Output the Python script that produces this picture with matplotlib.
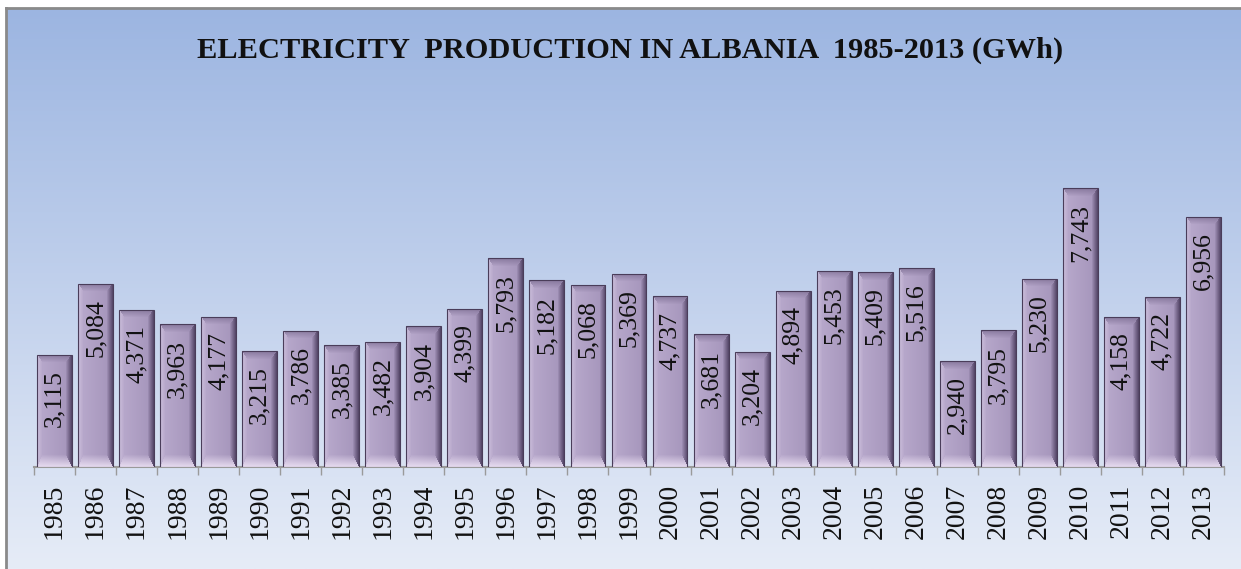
import matplotlib.pyplot as plt
import matplotlib.colors as mcolors
import numpy as np

years = list(range(1985, 2014))
production = [3115, 5084, 4371, 3963, 4177, 3215, 3786, 3385, 3482, 3904,
              4399, 5793, 5182, 5068, 5369, 4737, 3681, 3204, 4894, 5453,
              5409, 5516, 2940, 3795, 5230, 7743, 4158, 4722, 6956]
title = 'ELECTRICITY  PRODUCTION IN ALBANIA  1985-2013 (GWh)'

W, H = 1241, 569
fig = plt.figure(figsize=(W / 100, H / 100), dpi=100)
fig.patch.set_facecolor('white')

# background panel with vertical gradient
bg = fig.add_axes([6 / W, 0, 1 - 6 / W, (H - 8) / H])
top_c = np.array(mcolors.to_rgb('#9cb5e1'))
bot_c = np.array(mcolors.to_rgb('#e6ecf7'))
t = np.linspace(0, 1, 256)[:, None]
grad = top_c * (1 - t) + bot_c * t
bg.imshow(grad[:, None, :].repeat(2, axis=1), aspect='auto', extent=[0, 1, 0, 1])
bg.set_xlim(0, 1)
bg.set_ylim(0, 1)
bg.set_xticks([])
bg.set_yticks([])
for s in ['right', 'bottom']:
    bg.spines[s].set_visible(False)
for s in ['left', 'top']:
    bg.spines[s].set_color('#8a8a8a')
    bg.spines[s].set_linewidth(2)

ax = fig.add_axes([34 / W, 102 / H, (1224 - 34) / W, (467 - 143) / H])
ax.patch.set_alpha(0)
x = np.arange(len(years))
bars = ax.bar(x, production, width=0.85, color='#b3a3c7', edgecolor='none', zorder=2)
ax.set_xlim(-0.5, len(years) - 0.5)
ax.set_ylim(0, 9000)

face_l = np.array(mcolors.to_rgb('#b9aacd'))
face_r = np.array(mcolors.to_rgb('#a494ba'))
c_top = np.array(mcolors.to_rgb('#ebe0f3'))
c_left = np.array(mcolors.to_rgb('#cbbedb'))
c_right = np.array(mcolors.to_rgb('#4f4162'))
c_bot = np.array(mcolors.to_rgb('#85769b'))

fig.canvas.draw()
for b in bars:
    x0, y0 = b.get_x(), b.get_y()
    w, h = b.get_width(), b.get_height()
    p0 = ax.transData.transform((x0, y0))
    p1 = ax.transData.transform((x0 + w, y0 + h))
    nx = max(int(round(p1[0] - p0[0])), 2)
    ny = max(int(round(p1[1] - p0[1])), 2)
    jj, ii = np.meshgrid(np.arange(nx), np.arange(ny))
    dl = jj / 5.0
    dr = (nx - 1 - jj) / 6.0
    dt = ii / 12.0
    db = (ny - 1 - ii) / 8.0
    u = jj / (nx - 1)
    img = face_l * (1 - u[..., None]) + face_r * u[..., None]
    d = np.stack([dt, db, dl, dr])
    m = d.min(axis=0)
    k = d.argmin(axis=0)
    for idx, col in enumerate([c_top, c_bot, c_left, c_right]):
        sel = (k == idx) & (m < 1)
        f = (1 - m[sel])[:, None] * 0.9
        img[sel] = img[sel] * (1 - f) + col * f
    im = ax.imshow(img, extent=[x0, x0 + w, y0 + h, y0], aspect='auto',
                   interpolation='bilinear', zorder=3)
    im.set_clip_path(b)
    ax.add_patch(plt.Rectangle((x0, y0), w, h, fill=False, edgecolor='#4a3d5a',
                               linewidth=0.8, zorder=4))

for xi, v in zip(x, production):
    ax.annotate(f'{v:,}', (xi, v), xytext=(0, -11), textcoords='offset points',
                rotation=90, ha='center', va='top', fontsize=18.5,
                family='Liberation Serif', color='#111111', zorder=5)

ax.set_yticks([])
for s in ['left', 'right', 'top']:
    ax.spines[s].set_visible(False)
ax.spines['bottom'].set_color('#9a9a9a')
ax.spines['bottom'].set_linewidth(1.5)
ax.set_xticks(x)
ax.set_xticklabels([str(y) for y in years], rotation=90, fontsize=20,
                   family='Liberation Serif', color='#111111')
ax.tick_params(axis='x', which='major', length=0, pad=12)
ax.set_xticks(np.arange(-0.5, len(years), 1), minor=True)
ax.tick_params(axis='x', which='minor', length=6, width=1, color='#9a9a9a')

fig.text(630 / W, 1 - 50 / H, title, ha='center', va='center', fontsize=21.9,
         fontweight='bold', family='Liberation Serif', color='#111111')

fig.savefig('out.png', dpi=100)
